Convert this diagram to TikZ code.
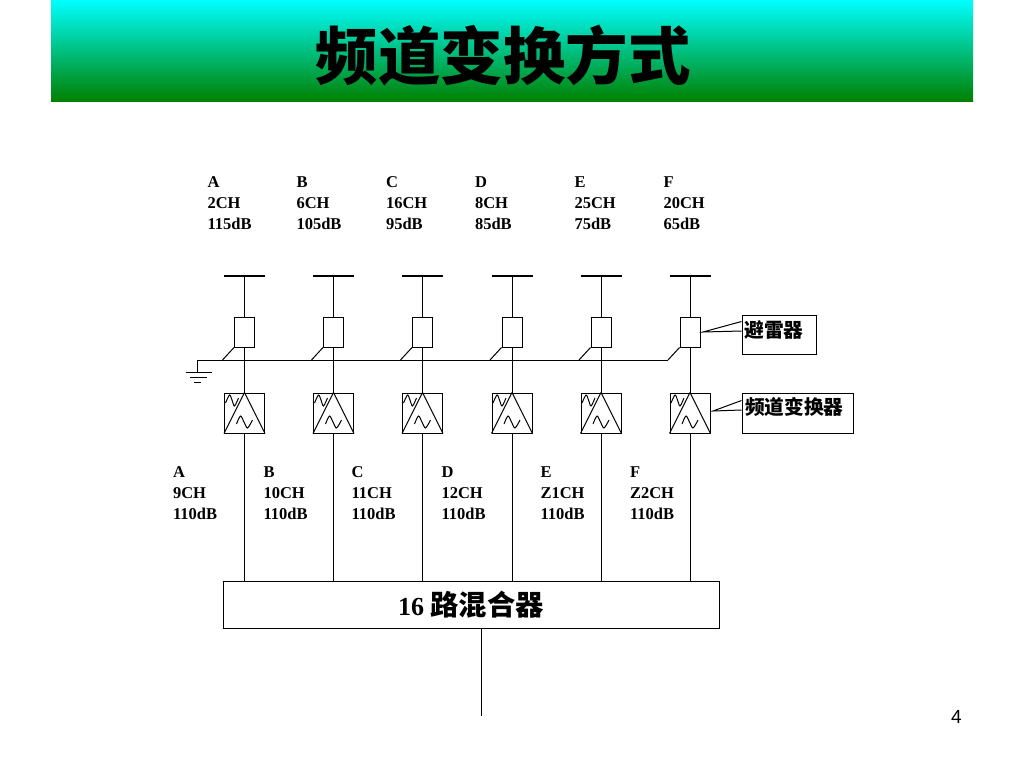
\documentclass[tikz,border=0pt]{standalone}
\usepackage{fontspec}
\usetikzlibrary{positioning}
\setmainfont{Liberation Serif}
\newfontfamily\cjk{Noto Sans CJK SC}
\newfontfamily\cjkheavy{Noto Sans CJK SC Black}
\newfontfamily\numfont{Liberation Sans}
\definecolor{titlegreen}{RGB}{0,128,0}
\begin{document}
\begin{tikzpicture}[
    x=1pt, y=-1pt, line width=1pt,
    arrester/.style={rectangle, draw, inner sep=0pt, minimum width=20pt, minimum height=30pt},
    converter/.style={rectangle, draw, inner sep=0pt, minimum width=40pt, minimum height=40pt},
    mixer/.style={rectangle, draw, inner sep=0pt, minimum width=496pt, minimum height=47pt},
    chlabel/.style={anchor=north west, align=left, inner sep=0pt, font=\fontsize{16.5}{21}\selectfont\bfseries},
    callout/.style={rectangle, draw, inner sep=0pt},
    callouttext/.style={anchor=west, inner sep=0pt, font=\fontsize{19.7}{20}\selectfont\cjk\bfseries}
]
\useasboundingbox (0,0) rectangle (1024,768);
% title
\node[rectangle, inner sep=0pt, outer sep=0pt, minimum width=922pt, minimum height=101.5pt, top color=cyan, bottom color=titlegreen] (titlebar) at (512,50.75) {};
\node[font=\fontsize{62.5}{62.5}\selectfont\cjkheavy] (title) at (503,56) {频道变换方式};

% mixer
\node[mixer, font=\fontsize{26}{26}\selectfont\bfseries] (mix) at (471,604.5) {16 {\fontsize{28.3}{28}\selectfont\cjk 路混合器}};
\coordinate (out) at (481,716);
\draw (mix.south -| out) -- (out);

% channel columns
\foreach \i/\x in {1/244.5, 2/333.5, 3/422.5, 4/512, 5/601, 6/690}{
    \coordinate (barl\i) at (\x-20.5,276);
    \coordinate (barr\i) at (\x+20.5,276);
    \coordinate (bar\i) at (\x,276);
    \coordinate (tap\i) at (\x-22,360);
    \node[arrester] (arr\i) at (\x,332) {};
    \node[converter] (conv\i) at (\x,413) {};
    \draw[line width=1.5pt] (barl\i) -- (barr\i);
    \draw (bar\i) -- (arr\i);
    \draw (arr\i) -- (conv\i);
    \draw (tap\i) -- (arr\i.south west);
    \draw (conv\i) -- (mix.north -| conv\i);
    \draw (conv\i.north) -- (conv\i.south west);
    \draw (conv\i.north) -- (conv\i.south east);
    \begin{scope}[shift={(\x,413)}]
        \draw plot[smooth] coordinates {(-19,-10) (-15,-18) (-12.5,-13) (-10,-7) (-6,-15)};
        \draw plot[smooth] coordinates {(-8,11) (-4,3) (-0.5,9) (3,15) (8,7)};
    \end{scope}
}

% ground
\coordinate (gnd) at (197,372.5);
\coordinate (gndtop) at (197,360);
\draw (tap6) -- (gndtop) -- (gnd);
\draw (185.5,372.5) -- (212,372.5);
\draw (190,377.5) -- (207,377.5);
\draw (194,382.5) -- (201,382.5);

% callouts
\node[callout, minimum width=74pt, minimum height=39pt] (lblarr) at (779,334.5) {};
\node[callout, minimum width=111pt, minimum height=40pt] (lblconv) at (797.5,413) {};
\node[callouttext] (txtarr) at (744,330) {避雷器};
\node[callouttext] (txtconv) at (744.5,407) {频道变换器};
\coordinate (tiparr) at (703,332);
\coordinate (tipconv) at (713,411);
\draw (lblarr.west |- 0,321.5) -- (tiparr) -- (lblarr.west |- 0,331);
\draw (lblconv.west |- 0,400.5) -- (tipconv) -- (lblconv.west |- 0,410);

% upper labels
\node[chlabel] (top1) at (207,176) {A\\2CH\\115dB};
\node[chlabel] (top2) at (296,176) {B\\6CH\\105dB};
\node[chlabel] (top3) at (385.5,176) {C\\16CH\\95dB};
\node[chlabel] (top4) at (474.5,176) {D\\8CH\\85dB};
\node[chlabel] (top5) at (574,176) {E\\25CH\\75dB};
\node[chlabel] (top6) at (663,176) {F\\20CH\\65dB};

% lower labels
\node[chlabel] (low1) at (172.5,466) {A\\9CH\\110dB};
\node[chlabel] (low2) at (263,466) {B\\10CH\\110dB};
\node[chlabel] (low3) at (351,466) {C\\11CH\\110dB};
\node[chlabel] (low4) at (441,466) {D\\12CH\\110dB};
\node[chlabel] (low5) at (540,466) {E\\Z1CH\\110dB};
\node[chlabel] (low6) at (629.5,466) {F\\Z2CH\\110dB};

% page number
\node[font=\fontsize{19}{19}\selectfont\numfont] (page) at (956.5,717) {4};
\end{tikzpicture}
\end{document}
